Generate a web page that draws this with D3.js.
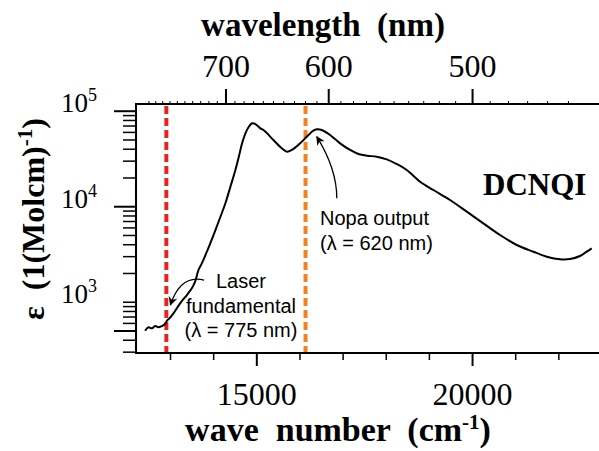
<!DOCTYPE html>
<html>
<head>
<meta charset="utf-8">
<script src="https://cdn.jsdelivr.net/npm/d3@7/dist/d3.min.js"></script>
<style>
  html, body { margin: 0; padding: 0; background: #fff; }
  svg { display: block; }
  text { white-space: pre; }
</style>
</head>
<body>
<svg id="chart" width="599" height="451"></svg>
<script>
// Absorption spectrum of DCNQI: wave number (cm^-1) vs molar extinction coefficient
const waveNumber = [
  12411, 12488, 12567, 12644, 12720, 12798, 12875, 12915, 12975, 13068,
  13223, 13378, 13494, 13570, 13647, 13726, 13845, 14041, 14157, 14272,
  14388, 14504, 14583, 14659, 14736, 14815, 14891, 14968, 15083, 15153,
  15239, 15385, 15579, 15695, 15811, 16003, 16196, 16311, 16390, 16506,
  16698, 16930, 17162, 17354, 17549, 17780, 18012, 18244, 18476, 18784,
  19092, 19479, 19866, 20250, 20637, 21024, 21409, 21720, 22027, 22259,
  22491, 22646, 22762
];
const epsilon = [
  503, 546, 533, 563, 546, 563, 591, 640, 678, 765,
  974, 1189, 1399, 1640, 2174, 2553, 3400, 5700, 7855, 10860,
  16200, 24230, 33400, 46100, 58700, 68800, 74700, 73400, 66200, 63500,
  58700, 49900, 40880, 37670, 39270, 46100, 56340, 62520, 64600, 63500,
  56340, 46100, 39270, 35650, 34200, 33420, 31350, 27990, 24230, 18270,
  14960, 11750, 8870, 6700, 5060, 3975, 3380, 2995, 2810, 2830,
  3050, 3380, 3660
];

// Axis ticks
const waveNumberMajor = [15000, 20000];
const waveNumberMinor = d3.range(13000, 23001, 1000);
const wavelengthMajor = [700, 600, 500];
const wavelengthMinor = d3.range(450, 801, 10);
const epsilonDecades = [3, 4, 5];
const epsilonLongTicks = [500, 1e4, 1e5];

// Marked wavelengths (nm)
const laserNm = 775;
const nopaNm = 620;

// Annotation arrows: [wave number, epsilon] for start, control, tip
const laserArrow = [[13779, 1708], [13230, 1968], [12998, 935]];
const nopaArrow = [[16854, 12250], [16854, 24830], [16390, 54100]];

const serif = "'Liberation Serif', 'Times New Roman', serif";
const sans = "'Liberation Sans', Arial, sans-serif";

const svg = d3.select("#chart");
svg.append("rect").attr("width", 599).attr("height", 451).attr("fill", "#fff");

const plot = { left: 136, top: 104, right: 602, bottom: 353 };

const x = d3.scaleLinear().domain([12200, 23000]).range([plot.left, plot.right]);
const y = d3.scaleLog().domain([294, 119000]).range([plot.bottom, plot.top]);

svg.append("clipPath").attr("id", "plotClip")
  .append("rect")
  .attr("x", plot.left).attr("y", plot.top)
  .attr("width", plot.right - plot.left).attr("height", plot.bottom - plot.top);

// Marker lines for the laser fundamental and NOPA output
const markers = [
  { nm: laserNm, color: "#e8231f" },
  { nm: nopaNm, color: "#f7801f" }
];
svg.append("g").selectAll("line").data(markers).join("line")
  .attr("x1", d => x(1e7 / d.nm)).attr("x2", d => x(1e7 / d.nm))
  .attr("y1", plot.top + 2).attr("y2", plot.bottom)
  .attr("stroke", d => d.color)
  .attr("stroke-width", 4)
  .attr("stroke-dasharray", "8,4");

// Spectrum
const spectrum = waveNumber.map((w, i) => [w, epsilon[i]]);
svg.append("path")
  .datum(spectrum)
  .attr("clip-path", "url(#plotClip)")
  .attr("fill", "none")
  .attr("stroke", "#000")
  .attr("stroke-width", 2)
  .attr("stroke-linejoin", "round")
  .attr("d", d3.line().x(d => x(d[0])).y(d => y(d[1])).curve(d3.curveCatmullRom.alpha(0.5)));

// Frame
svg.append("rect")
  .attr("x", plot.left).attr("y", plot.top)
  .attr("width", plot.right - plot.left).attr("height", plot.bottom - plot.top)
  .attr("fill", "none").attr("stroke", "#000").attr("stroke-width", 2);

// Bottom axis (wave number)
const bottomAxis = svg.append("g");
bottomAxis.selectAll("line.minor").data(waveNumberMinor.filter(v => !waveNumberMajor.includes(v))).join("line")
  .attr("class", "minor")
  .attr("x1", d => x(d)).attr("x2", d => x(d))
  .attr("y1", plot.bottom).attr("y2", plot.bottom + 7)
  .attr("stroke", "#000").attr("stroke-width", 1.5);
bottomAxis.selectAll("line.major").data(waveNumberMajor).join("line")
  .attr("class", "major")
  .attr("x1", d => x(d)).attr("x2", d => x(d))
  .attr("y1", plot.bottom).attr("y2", plot.bottom + 13)
  .attr("stroke", "#000").attr("stroke-width", 2);
bottomAxis.selectAll("text").data(waveNumberMajor).join("text")
  .attr("x", d => x(d)).attr("y", 405)
  .attr("text-anchor", "middle")
  .attr("font-family", serif).attr("font-size", 32)
  .text(d => d);

const bottomTitle = svg.append("text")
  .attr("x", 338).attr("y", 441)
  .attr("text-anchor", "middle")
  .attr("font-family", serif).attr("font-size", 34).attr("font-weight", "bold");
bottomTitle.append("tspan").text("wave  number  (cm");
bottomTitle.append("tspan").attr("font-size", 21).attr("dy", -12).text("-1");
bottomTitle.append("tspan").attr("dy", 12).text(")");

// Top axis (wavelength)
const topAxis = svg.append("g");
topAxis.selectAll("line.minor").data(wavelengthMinor.filter(v => x(1e7 / v) > plot.left && x(1e7 / v) < plot.right)).join("line")
  .attr("class", "minor")
  .attr("x1", d => x(1e7 / d)).attr("x2", d => x(1e7 / d))
  .attr("y1", plot.top).attr("y2", plot.top - 3)
  .attr("stroke", "#000").attr("stroke-width", 1);
topAxis.selectAll("line.major").data(wavelengthMajor).join("line")
  .attr("class", "major")
  .attr("x1", d => x(1e7 / d)).attr("x2", d => x(1e7 / d))
  .attr("y1", plot.top).attr("y2", plot.top - 15)
  .attr("stroke", "#000").attr("stroke-width", 2);
topAxis.selectAll("text").data(wavelengthMajor).join("text")
  .attr("x", d => x(1e7 / d)).attr("y", 77)
  .attr("text-anchor", "middle")
  .attr("font-family", serif).attr("font-size", 32)
  .text(d => d);

svg.append("text")
  .attr("x", 323).attr("y", 36)
  .attr("text-anchor", "middle")
  .attr("font-family", serif).attr("font-size", 33).attr("font-weight", "bold")
  .text("wavelength  (nm)");

// Left axis (epsilon, log scale)
const [yLo, yHi] = y.domain();
const yMinor = [];
for (let k = 2; k <= 5; k++) {
  for (let m = 1; m <= 9; m++) {
    const v = m * Math.pow(10, k);
    if (v >= yLo && v <= yHi && !epsilonLongTicks.includes(v)) yMinor.push(v);
  }
}
const leftAxis = svg.append("g");
leftAxis.selectAll("line.minor").data(yMinor).join("line")
  .attr("class", "minor")
  .attr("x1", plot.left).attr("x2", plot.left - 13)
  .attr("y1", d => y(d)).attr("y2", d => y(d))
  .attr("stroke", "#000").attr("stroke-width", 1.5);
leftAxis.selectAll("line.major").data(epsilonLongTicks).join("line")
  .attr("class", "major")
  .attr("x1", plot.left).attr("x2", plot.left - 22)
  .attr("y1", d => y(d)).attr("y2", d => y(d))
  .attr("stroke", "#000").attr("stroke-width", 2);
const yLabels = leftAxis.selectAll("text").data(epsilonDecades).join("text")
  .attr("x", 97).attr("y", d => y(Math.pow(10, d)) + 1)
  .attr("text-anchor", "end")
  .attr("font-family", serif).attr("font-size", 27);
yLabels.append("tspan").text("10");
yLabels.append("tspan").attr("font-size", 18).attr("dy", -11).text(d => d);

const yTitle = svg.append("text")
  .attr("transform", "translate(44,219) rotate(-90)")
  .attr("text-anchor", "middle")
  .attr("font-family", serif).attr("font-size", 32).attr("font-weight", "bold");
yTitle.append("tspan").text("ε  (1(Molcm)");
yTitle.append("tspan").attr("font-size", 21).attr("dy", -12).text("-1");
yTitle.append("tspan").attr("dy", 12).text(")");

// Sample name
svg.append("text")
  .attr("x", 483).attr("y", 195)
  .attr("font-family", serif).attr("font-size", 31).attr("font-weight", "bold")
  .text("DCNQI");

// Arrows
svg.append("defs").append("marker")
  .attr("id", "head")
  .attr("viewBox", "0 0 10 10")
  .attr("refX", 9).attr("refY", 5)
  .attr("markerWidth", 9).attr("markerHeight", 9)
  .attr("markerUnits", "userSpaceOnUse")
  .attr("orient", "auto")
  .append("path").attr("d", "M0,0 L10,5 L0,10 L3,5 Z").attr("fill", "#000");

function arrowPath(pts) {
  const p = pts.map(d => [x(d[0]), y(d[1])]);
  return `M${p[0][0]},${p[0][1]} Q${p[1][0]},${p[1][1]} ${p[2][0]},${p[2][1]}`;
}
svg.selectAll("path.arrow").data([laserArrow, nopaArrow]).join("path")
  .attr("class", "arrow")
  .attr("d", arrowPath)
  .attr("fill", "none").attr("stroke", "#000").attr("stroke-width", 1.3)
  .attr("marker-end", "url(#head)");

// Annotation texts
const laserLines = ["Laser", "fundamental", "(λ = 775 nm)"];
svg.append("g").selectAll("text").data(laserLines).join("text")
  .attr("x", 241).attr("y", (d, i) => 288 + i * 24.5)
  .attr("text-anchor", "middle")
  .attr("font-family", sans).attr("font-size", 20)
  .text(d => d);

const nopaLines = ["Nopa output", "(λ = 620 nm)"];
svg.append("g").selectAll("text").data(nopaLines).join("text")
  .attr("x", 320).attr("y", (d, i) => 225 + i * 25)
  .attr("font-family", sans).attr("font-size", 20)
  .text(d => d);
</script>
</body>
</html>
